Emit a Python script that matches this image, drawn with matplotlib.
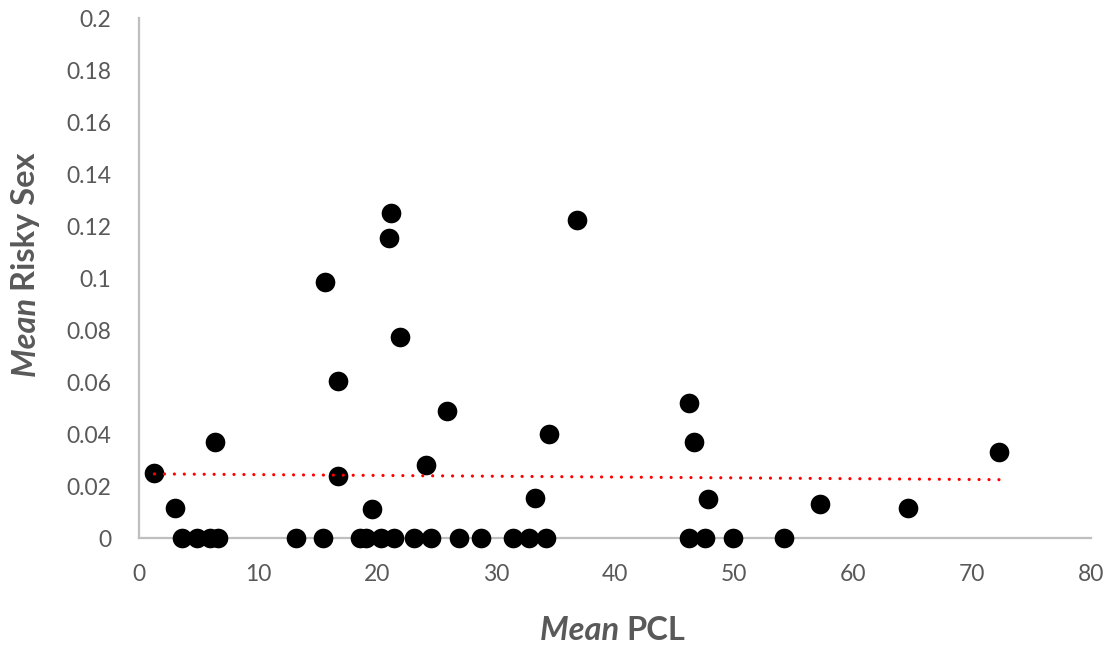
import matplotlib.pyplot as plt
import numpy as np

# Mean PCL (x) and Mean Risky Sex (y)
pcl_zero = [3.6, 4.9, 6.0, 6.6, 13.2, 15.5, 18.6, 19.1, 20.3, 21.4, 23.1,
            24.5, 26.9, 28.7, 31.4, 32.8, 34.2, 46.2, 47.6, 49.9, 54.2]
pcl_pos = [1.3, 3.0, 6.4, 16.75, 19.6, 24.1, 25.9, 34.45, 33.3, 46.2, 46.6,
           47.8, 57.2, 64.6, 72.3, 21.2, 21.0, 15.6, 21.9, 16.75, 36.8]
risky_pos = [0.0249, 0.0117, 0.0368, 0.0238, 0.0110, 0.0281, 0.049, 0.040,
             0.0153, 0.0518, 0.0368, 0.0149, 0.013, 0.0117, 0.0332, 0.1249,
             0.1155, 0.0983, 0.0774, 0.0604, 0.1223]

pcl = np.array(pcl_zero + pcl_pos)
risky = np.array([0.0] * len(pcl_zero) + risky_pos)

GREY_TXT = "#595959"
plt.rcParams["font.family"] = ["Lato", "DejaVu Sans"]

fig = plt.figure(figsize=(11.14, 6.5), dpi=100)
ax = fig.add_axes([0.1248, 0.1723, 0.8545, 0.80])

ax.scatter(pcl, risky, s=200, color="black", zorder=3, clip_on=False, linewidths=0)

# linear trendline, like Excel's
slope, intercept = np.polyfit(pcl, risky, 1)
xs = np.array([pcl.min(), pcl.max()])
ax.plot(xs, intercept + slope * xs, color="#ff0000", lw=2.3,
        linestyle=(0, (0.01, 3.1)), dash_capstyle="round", zorder=4)

ax.set_xlim(0, 80)
ax.set_ylim(0, 0.2)
ax.set_xticks(range(0, 81, 10))
ax.set_yticks(np.arange(0, 0.201, 0.02))
ax.set_yticklabels(["0", "0.02", "0.04", "0.06", "0.08", "0.1", "0.12",
                    "0.14", "0.16", "0.18", "0.2"])
ax.tick_params(length=0, labelsize=16.5, colors=GREY_TXT)
ax.tick_params(axis="y", pad=20)
ax.tick_params(axis="x", pad=19)
for side in ("top", "right"):
    ax.spines[side].set_visible(False)
for side in ("left", "bottom"):
    ax.spines[side].set_color("#bfbfbf")
    ax.spines[side].set_linewidth(1.6)

# axis titles with italic "Mean"
fig.canvas.draw()
r = fig.canvas.get_renderer()
lab = dict(fontsize=23.5, color=GREY_TXT, fontweight="bold")

a = fig.text(0, 0, "Mean ", style="italic", **lab)
b = fig.text(0, 0, "PCL", **lab)
wa = a.get_window_extent(r).width
wb = b.get_window_extent(r).width
xc, yc = 613, 650 - 630
a.set_position(((xc - (wa + wb) / 2) / 1114, yc / 650))
b.set_position(((xc - (wa + wb) / 2 + wa) / 1114, yc / 650))
a.set_va("center")
b.set_va("center")

c = fig.text(0, 0, "Mean ", style="italic", rotation=90, **lab)
d = fig.text(0, 0, "Risky Sex", rotation=90, **lab)
hc = c.get_window_extent(r).height
hd = d.get_window_extent(r).height
xc, yc = 26, 650 - 265
c.set_position((xc / 1114, (yc - (hc + hd) / 2) / 650))
d.set_position((xc / 1114, (yc - (hc + hd) / 2 + hc) / 650))
for t in (c, d):
    t.set_ha("center")
    t.set_va("bottom")

fig.savefig("out.png", dpi=100)
